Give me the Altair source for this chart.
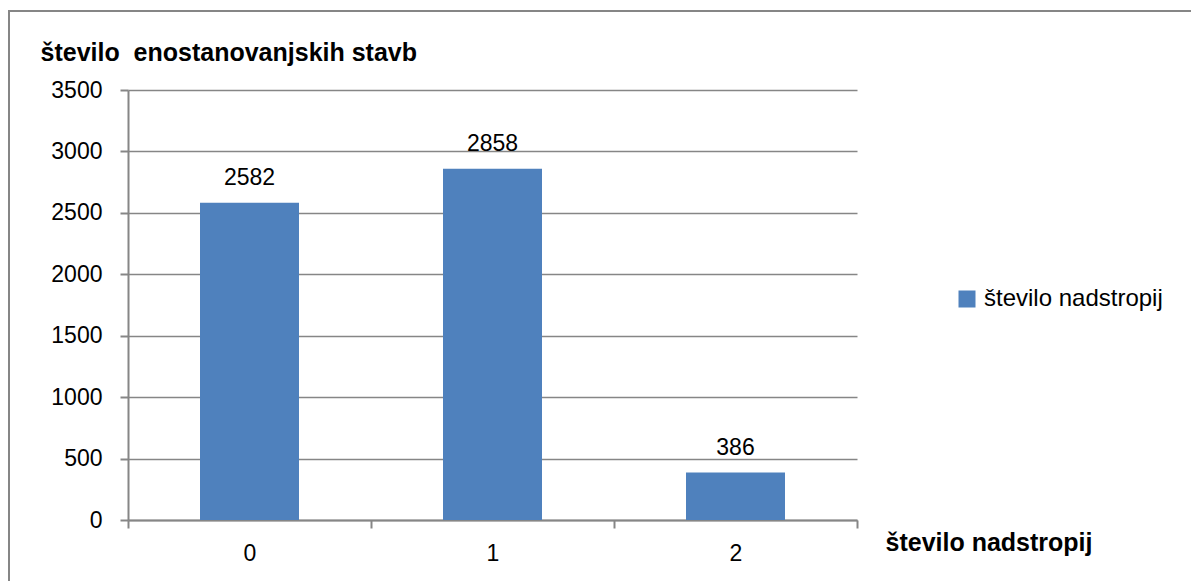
import altair as alt
import pandas as pd

categories = ["0", "1", "2"]
values = [2582, 2858, 386]
series_name = "število nadstropij"
y_title = "število\u00a0 enostanovanjskih stavb"
x_title = "število nadstropij"
y_ticks = [0, 500, 1000, 1500, 2000, 2500, 3000, 3500]

df = pd.DataFrame({"cat": categories, "val": values, "series": [series_name] * len(categories)})

FONT = "Liberation Sans"
GRID = "#868686"
BAR = "#4F81BD"

base = alt.Chart(df)

bars = base.mark_bar(size=99, color=BAR).encode(
    x=alt.X(
        "cat:N",
        sort=categories,
        scale=alt.Scale(paddingInner=0, paddingOuter=0),
        axis=alt.Axis(
            title=x_title,
            labelAngle=0,
            labelFontSize=23,
            labelFont=FONT,
            labelColor="black",
            labelPadding=14,
            tickBand="extent",
            tickSize=8,
            tickColor=GRID,
            tickWidth=2,
            domainColor=GRID,
            domainWidth=2,
            titleFont=FONT,
            titleFontSize=25,
            titleFontWeight="bold",
            titleColor="black",
            titleAlign="left",
            titleBaseline="middle",
            titleX=757,
            titleY=22,
            grid=False,
        ),
    ),
    y=alt.Y(
        "val:Q",
        scale=alt.Scale(domain=[0, 3500], nice=False),
        axis=alt.Axis(
            title=y_title,
            values=y_ticks,
            format="d",
            labelFontSize=23,
            labelFont=FONT,
            labelColor="black",
            labelPadding=18,
            tickSize=8,
            tickColor=GRID,
            tickWidth=2,
            domainColor=GRID,
            domainWidth=2,
            gridColor=GRID,
            gridWidth=1.5,
            titleFont=FONT,
            titleFontSize=25,
            titleFontWeight="bold",
            titleColor="black",
            titleAngle=0,
            titleAlign="left",
            titleBaseline="middle",
            titleX=-88,
            titleY=-38,
        ),
    ),
    fill=alt.Fill(
        "series:N",
        scale=alt.Scale(range=[BAR]),
        legend=alt.Legend(
            title=None,
            orient="none",
            legendX=827,
            legendY=197,
            symbolType="square",
            symbolSize=289,
            symbolStrokeWidth=0,
            symbolOpacity=1,
            labelFontSize=24,
            labelFont=FONT,
            labelColor="black",
            labelOffset=5,
            labelLimit=0,
        ),
    ),
)

labels = base.mark_text(
    font=FONT, fontSize=23, color="black", baseline="alphabetic", dy=-18
).encode(
    x=alt.X("cat:N", sort=categories),
    y=alt.Y("val:Q"),
    text=alt.Text("val:Q", format="d"),
)

border = alt.Chart(pd.DataFrame({"a": [0]})).mark_rect(
    fill="transparent", stroke=GRID, strokeWidth=2
).encode(
    x=alt.value(-119), x2=alt.value(1300), y=alt.value(-79), y2=alt.value(700)
)

chart = alt.layer(border, bars, labels).properties(
    width=729,
    height=430,
    padding={"left": 128, "top": 90, "right": 334, "bottom": 61},
    autosize=alt.AutoSizeParams(type="none"),
    background="white",
).configure_view(strokeWidth=0)

chart.save("out.html", embed_options={"renderer": "svg", "actions": False})
